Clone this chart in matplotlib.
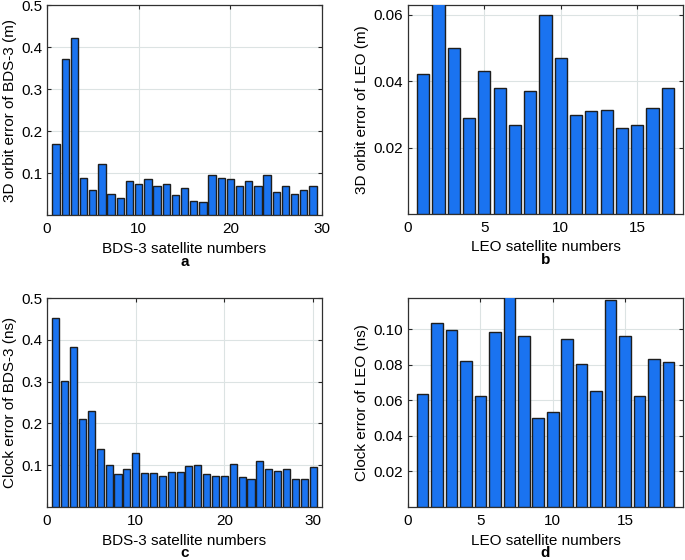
import numpy as np
import matplotlib
matplotlib.use('Agg')
import matplotlib.pyplot as plt

plt.rcParams['font.family'] = ['Liberation Sans', 'DejaVu Sans']

# ---- data ----
bds_orbit = [0.170, 0.371, 0.421, 0.089, 0.060, 0.121, 0.051, 0.041, 0.080, 0.075,
             0.085, 0.070, 0.075, 0.048, 0.064, 0.034, 0.032, 0.095, 0.088, 0.087,
             0.068, 0.080, 0.070, 0.095, 0.056, 0.070, 0.051, 0.060, 0.070]
leo_orbit = [0.0421, 0.0645, 0.0500, 0.0289, 0.0431, 0.0380, 0.0269, 0.0371, 0.0601,
             0.0470, 0.0298, 0.0310, 0.0313, 0.0260, 0.0269, 0.0320, 0.0380]
bds_clock = [0.452, 0.302, 0.382, 0.210, 0.230, 0.140, 0.100, 0.080, 0.090, 0.130,
             0.081, 0.082, 0.074, 0.085, 0.084, 0.099, 0.101, 0.079, 0.074, 0.074,
             0.102, 0.071, 0.067, 0.109, 0.090, 0.087, 0.090, 0.067, 0.066, 0.095]
leo_clock = [0.0635, 0.1034, 0.0995, 0.0823, 0.0622, 0.0984, 0.1200, 0.0963, 0.0502,
             0.0532, 0.0944, 0.0804, 0.0654, 0.1165, 0.0963, 0.0622, 0.0834, 0.0813]

panels = [
    # values, xlabel, ylabel, letter, xlim, ylim, xticks, yticks, ytick format
    (bds_orbit, 'BDS-3 satellite numbers', '3D orbit error of BDS-3 (m)', 'a',
     (0, 30), (0, 0.5), [0, 10, 20, 30], [0.1, 0.2, 0.3, 0.4, 0.5], '%.1f'),
    (leo_orbit, 'LEO satellite numbers', '3D orbit error of LEO (m)', 'b',
     (0, 18), (0, 0.063), [0, 5, 10, 15], [0.02, 0.04, 0.06], '%.2f'),
    (bds_clock, 'BDS-3 satellite numbers', 'Clock error of BDS-3 (ns)', 'c',
     (0, 31), (0, 0.5), [0, 10, 20, 30], [0.1, 0.2, 0.3, 0.4, 0.5], '%.1f'),
    (leo_clock, 'LEO satellite numbers', 'Clock error of LEO (ns)', 'd',
     (0, 19), (0, 0.1175), [0, 5, 10, 15], [0.02, 0.04, 0.06, 0.08, 0.10], '%.2f'),
]

positions = [
    [0.0686, 0.616, 0.4015, 0.375],
    [0.5956, 0.618, 0.4015, 0.373],
    [0.0686, 0.0946, 0.4015, 0.373],
    [0.5956, 0.0946, 0.4015, 0.373],
]

fig = plt.figure(figsize=(6.85, 5.6), dpi=100)

for (vals, xl, yl, letter, xlim, ylim, xt, yt, fmt), pos in zip(panels, positions):
    ax = fig.add_axes(pos)
    x = np.arange(1, len(vals) + 1)
    ax.bar(x, vals, width=0.8, color='#1a73f0', edgecolor='#1e1e1e', linewidth=1.0, zorder=3)
    ax.set_xlim(*xlim)
    ax.set_ylim(*ylim)
    ax.set_xticks(xt)
    ax.set_yticks(yt)
    ax.set_yticklabels([fmt % v for v in yt])
    ax.grid(True, color='#dce3e3', linewidth=0.8, zorder=0)
    ax.tick_params(direction='in', length=3, width=0.8, top=True, right=True,
                   labelsize=11, colors='#262626', labelcolor='black')
    ax.tick_params(axis='x', pad=5)
    for s in ax.spines.values():
        s.set_color('#303030')
        s.set_linewidth(0.9)
    ax.set_xlabel(xl, fontsize=11, labelpad=4)
    ax.set_ylabel(yl, fontsize=11, labelpad=3)
    ax.text(0.5, -0.222, letter, transform=ax.transAxes, ha='center', va='center',
            fontsize=11, fontweight='bold')

plt.savefig('out.png', dpi=100)
